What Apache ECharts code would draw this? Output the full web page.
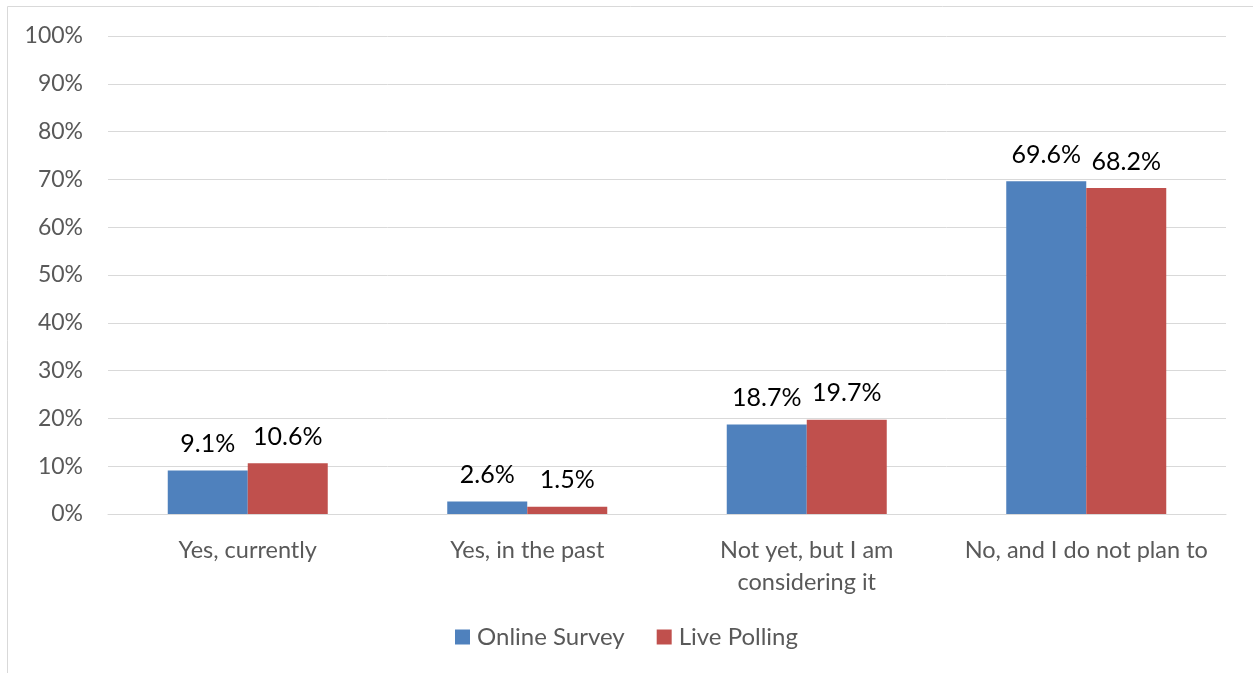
<!DOCTYPE html>
<html><head><meta charset="utf-8">
<script src="https://cdn.jsdelivr.net/npm/echarts@6/dist/echarts.min.js"></script>
<style>html,body{margin:0;padding:0;background:#fff}#c{width:1253px;height:673px}</style>
</head><body><div id="c"></div>
<script>
const categories = ['Yes, currently', 'Yes, in the past', 'Not yet, but I am\nconsidering it', 'No, and I do not plan to'];
const onlineSurvey = [9.1, 2.6, 18.7, 69.6];
const livePolling = [10.6, 1.5, 19.7, 68.2];
const seriesNames = ['Online Survey', 'Live Polling'];
const FONT = 'Lato, "Open Sans", sans-serif';
const chart = echarts.init(document.getElementById('c'));
const labelCfg = {show: true, position: 'top', distance: 14, color: '#000', fontSize: 25, fontFamily: FONT, formatter: p => p.value.toFixed(1) + '%'};
chart.setOption({
  animation: false,
  graphic: [{type: 'rect', shape: {x: 7.5, y: 6.5, width: 1300, height: 700}, style: {fill: 'none', stroke: '#d9d9d9', lineWidth: 1}, silent: true}],
  grid: {left: 108, right: 27, top: 36, bottom: 159, containLabel: false},
  legend: {bottom: 19, left: 'center', itemWidth: 15, itemHeight: 15, itemGap: 32, icon: 'rect',
    textStyle: {color: '#595959', fontSize: 24, fontFamily: FONT, padding: [0, 0, 0, 2]}, data: seriesNames},
  xAxis: {type: 'category', data: categories,
    axisLine: {lineStyle: {color: '#d9d9d9'}}, axisTick: {show: false},
    axisLabel: {color: '#595959', fontSize: 23.5, fontFamily: FONT, margin: 20, lineHeight: 32, interval: 0}},
  yAxis: {type: 'value', min: 0, max: 100, interval: 10,
    axisLine: {show: false}, axisTick: {show: false},
    splitLine: {lineStyle: {color: '#d9d9d9', width: 1}},
    axisLabel: {color: '#595959', fontSize: 23, fontFamily: FONT, margin: 25, formatter: v => v + '%'}},
  series: [
    {name: seriesNames[0], type: 'bar', data: onlineSurvey, barWidth: 80, barGap: '0%', itemStyle: {color: '#4F81BD'}, label: labelCfg},
    {name: seriesNames[1], type: 'bar', data: livePolling, barWidth: 80, barGap: '0%', itemStyle: {color: '#C0504D'}, label: labelCfg}
  ]
});
</script></body></html>
